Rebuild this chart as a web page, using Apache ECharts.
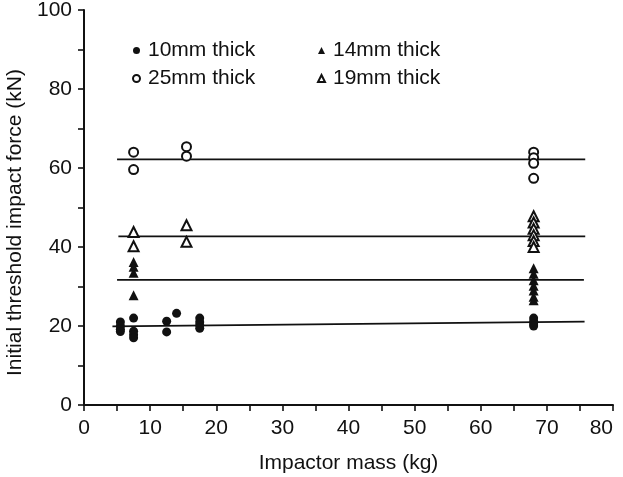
<!DOCTYPE html>
<html><head><meta charset="utf-8">
<script src="https://cdn.jsdelivr.net/npm/echarts@6/dist/echarts.min.js"></script>
<style>html,body{margin:0;padding:0;background:#fff}#c{width:623px;height:477px}</style>
</head><body><div id="c"></div>
<script>
const xTicks = [0, 10, 20, 30, 40, 50, 60, 70, 80];
const yTicks = [0, 20, 40, 60, 80, 100];
const seriesNames = ['10mm thick', '14mm thick', '25mm thick', '19mm thick'];
// [impactor mass (kg), force (kN)]
const thick10 = [[5.5,21],[5.5,20],[5.5,19.2],[5.5,18.6],[7.5,22],[7.5,18.7],[7.5,17.8],[7.5,17],[12.5,21.2],[12.5,18.5],[14,23.2],[17.5,22],[17.5,21],[17.5,20.2],[17.5,19.4],[68,22],[68,21.2],[68,20.5],[68,20]];
const thick14 = [[7.5,36.2],[7.5,35],[7.5,33.5],[7.5,27.8],[68,34.6],[68,33.2],[68,31.6],[68,30.2],[68,29],[68,27.4],[68,26.5]];
const thick25 = [[7.5,64],[7.5,59.6],[15.5,65.4],[15.5,63],[68,64],[68,62.6],[68,61.2],[68,57.4]];
const thick19 = [[7.5,43.8],[7.5,40.2],[15.5,45.5],[15.5,41.3],[68,47.8],[68,46.2],[68,44.6],[68,43],[68,41.5],[68,40]];
const fit10 = [[4.3,19.9],[75.7,21.1]];
const fit14 = [[5,31.7],[75.6,31.7]];
const fit19 = [[5.2,42.7],[75.8,42.7]];
const fit25 = [[5,62.2],[75.8,62.2]];

const FONT = '"Liberation Sans", Arial, sans-serif';
const FS = 21;
const INK = '#111';
const chart = echarts.init(document.getElementById('c'));
function fitLine(d){return {type:'line',data:d,symbol:'none',silent:true,z:1,lineStyle:{color:INK,width:1.8,opacity:1},legendHoverLink:false};}
function scat(name,d,sym,filled){return {type:'scatter',name:name,data:d,symbol:sym,symbolSize:sym==='circle'?9:10,z:3,
  itemStyle:filled?{color:INK,opacity:1}:{color:'#fff',borderColor:INK,borderWidth:2,opacity:1}};}
const legendCommon = {orient:'vertical',itemWidth:7,itemHeight:7,itemGap:7,top:35,selectedMode:false,
  textStyle:{fontFamily:FONT,fontSize:FS,color:INK,padding:[0,0,0,3]}};
chart.setOption({
  animation:false,
  backgroundColor:'#fff',
  grid:{left:84,right:10,top:10,bottom:72,containLabel:false,outerBoundsMode:'none'},
  legend:[Object.assign({left:127,data:[seriesNames[0],seriesNames[2]]},legendCommon),
          Object.assign({left:312,data:[seriesNames[1],seriesNames[3]]},legendCommon)],
  xAxis:{type:'value',min:xTicks[0],max:xTicks[xTicks.length-1],interval:10,
    name:'Impactor mass (kg)',nameLocation:'middle',nameGap:48,
    nameTextStyle:{fontFamily:FONT,fontSize:FS,color:INK},
    axisLine:{lineStyle:{color:INK,width:2}},
    axisTick:{show:true,length:6,lineStyle:{color:INK,width:1.6}},
    minorTick:{show:true,splitNumber:2,length:6,lineStyle:{color:INK,width:1.6}},
    splitLine:{show:false},
    axisLabel:{fontFamily:FONT,fontSize:FS,color:INK,margin:13,alignMaxLabel:'right'}},
  yAxis:{type:'value',min:yTicks[0],max:yTicks[yTicks.length-1],interval:20,
    name:'Initial threshold impact force (kN)',nameLocation:'middle',nameGap:56,
    nameTextStyle:{fontFamily:FONT,fontSize:FS,color:INK,padding:[0,30,0,0]},
    axisLine:{show:true,lineStyle:{color:INK,width:2}},
    axisTick:{show:true,length:6,lineStyle:{color:INK,width:1.6}},
    minorTick:{show:true,splitNumber:2,length:6,lineStyle:{color:INK,width:1.6}},
    splitLine:{show:false},
    axisLabel:{fontFamily:FONT,fontSize:FS,color:INK,margin:12}},
  series:[
    fitLine(fit10),fitLine(fit14),fitLine(fit19),fitLine(fit25),
    scat(seriesNames[0],thick10,'circle',true),
    scat(seriesNames[1],thick14,'triangle',true),
    scat(seriesNames[2],thick25,'circle',false),
    scat(seriesNames[3],thick19,'triangle',false)
  ]
});
</script></body></html>
